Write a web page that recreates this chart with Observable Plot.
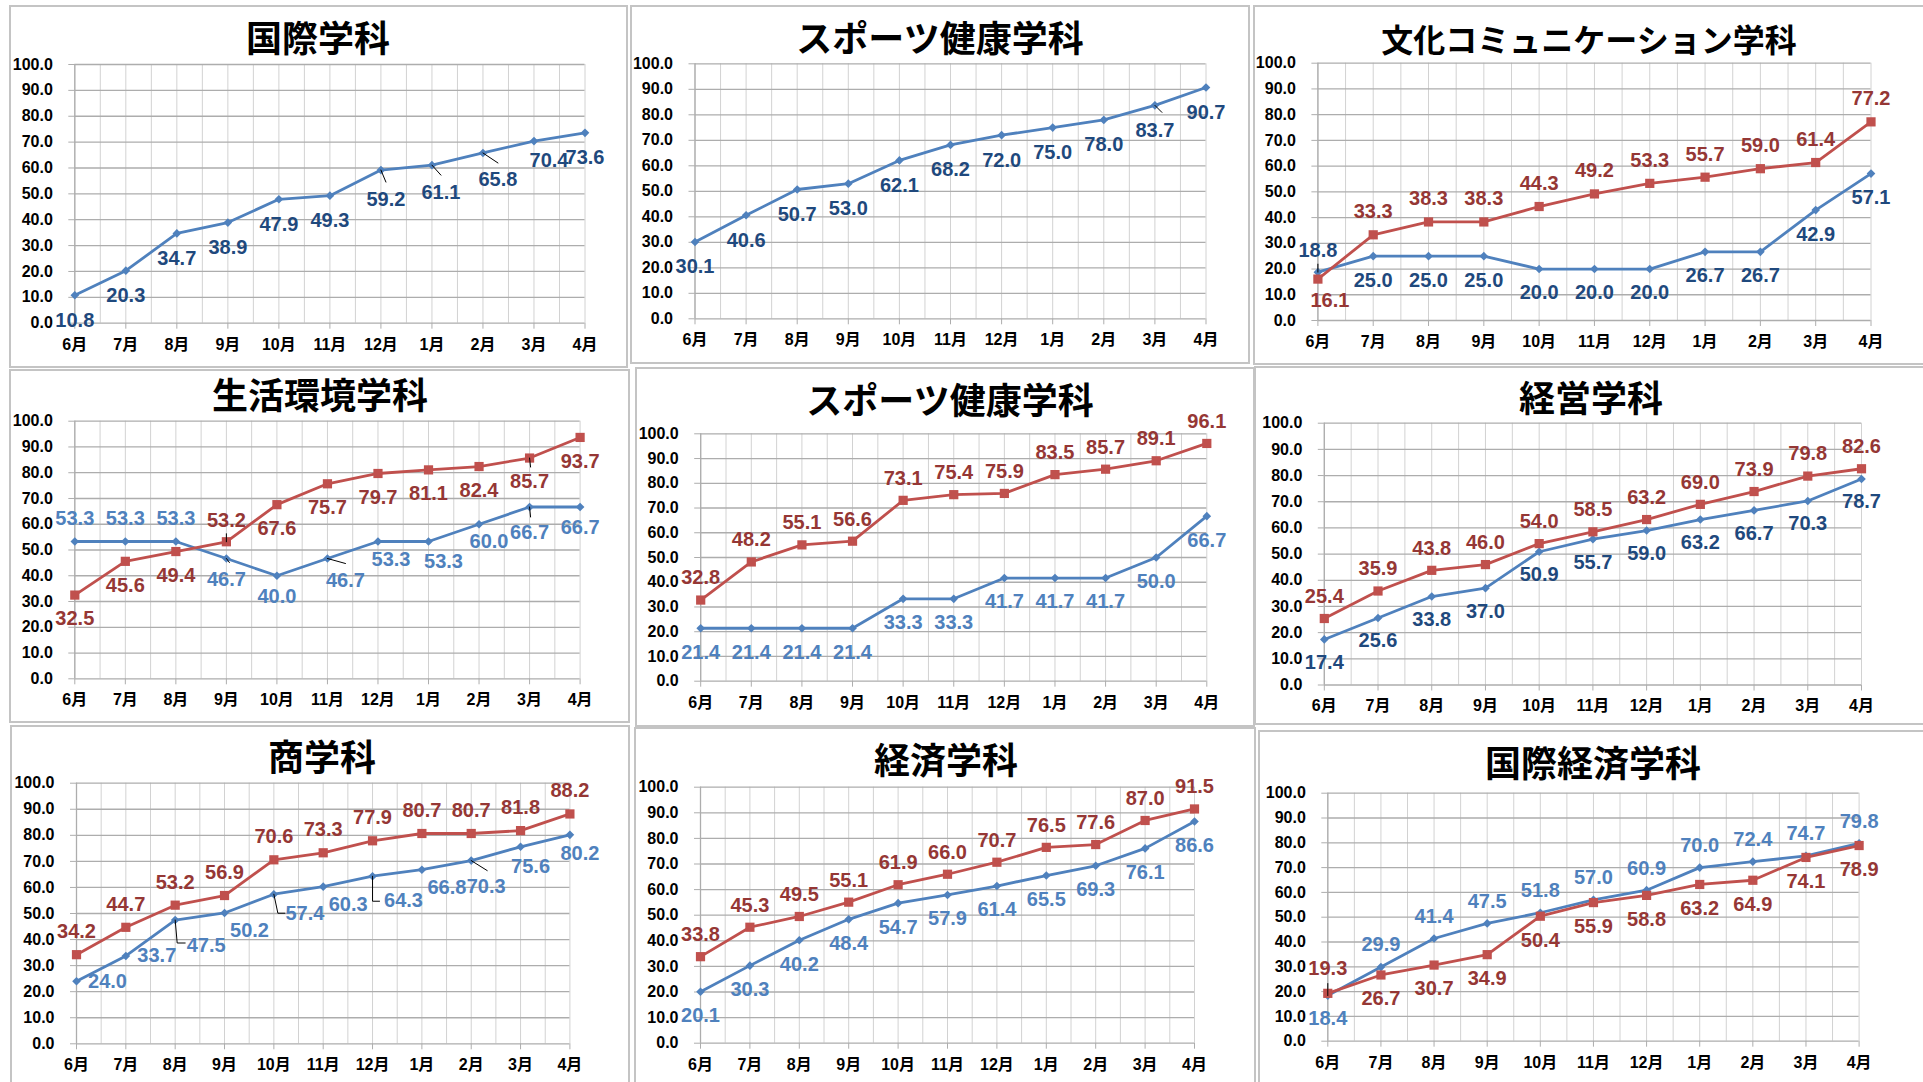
<!DOCTYPE html>
<html>
<head>
<meta charset="utf-8">
<script src="https://cdn.jsdelivr.net/npm/d3@7"></script>
<script src="https://cdn.jsdelivr.net/npm/@observablehq/plot@0.6"></script>
<style>
  html, body { margin: 0; padding: 0; background: #fff; }
  #root { position: relative; width: 1923px; height: 1082px; overflow: hidden; background: #fff; }
  .panel { position: absolute; box-sizing: border-box; border: 2px solid #C4C4C4; background: #fff; }
  .title { position: absolute; text-align: center; font-family: "Noto Sans CJK JP", sans-serif; font-weight: bold; color: #000; white-space: nowrap; }
  svg.chart { position: absolute; overflow: visible; }
</style>
</head>
<body>
<div id="root"></div>
<script>
// ---------- data ----------
const months = ["6月","7月","8月","9月","10月","11月","12月","1月","2月","3月","4月"];
const yTicks = [0, 10, 20, 30, 40, 50, 60, 70, 80, 90, 100];
const titles = ["国際学科", "スポーツ健康学科", "文化コミュニケーション学科", "生活環境学科", "スポーツ健康学科", "経営学科", "商学科", "経済学科", "国際経済学科"];

const kokusaiBlue   = [10.8, 20.3, 34.7, 38.9, 47.9, 49.3, 59.2, 61.1, 65.8, 70.4, 73.6];
const sportsBlue    = [30.1, 40.6, 50.7, 53.0, 62.1, 68.2, 72.0, 75.0, 78.0, 83.7, 90.7];
const bunkaBlue     = [18.8, 25.0, 25.0, 25.0, 20.0, 20.0, 20.0, 26.7, 26.7, 42.9, 57.1];
const bunkaRed      = [16.1, 33.3, 38.3, 38.3, 44.3, 49.2, 53.3, 55.7, 59.0, 61.4, 77.2];
const seikatsuBlue  = [53.3, 53.3, 53.3, 46.7, 40.0, 46.7, 53.3, 53.3, 60.0, 66.7, 66.7];
const seikatsuRed   = [32.5, 45.6, 49.4, 53.2, 67.6, 75.7, 79.7, 81.1, 82.4, 85.7, 93.7];
const sports2Blue   = [21.4, 21.4, 21.4, 21.4, 33.3, 33.3, 41.7, 41.7, 41.7, 50.0, 66.7];
const sports2Red    = [32.8, 48.2, 55.1, 56.6, 73.1, 75.4, 75.9, 83.5, 85.7, 89.1, 96.1];
const keieiBlue     = [17.4, 25.6, 33.8, 37.0, 50.9, 55.7, 59.0, 63.2, 66.7, 70.3, 78.7];
const keieiRed      = [25.4, 35.9, 43.8, 46.0, 54.0, 58.5, 63.2, 69.0, 73.9, 79.8, 82.6];
const shoBlue       = [24.0, 33.7, 47.5, 50.2, 57.4, 60.3, 64.3, 66.8, 70.3, 75.6, 80.2];
const shoRed        = [34.2, 44.7, 53.2, 56.9, 70.6, 73.3, 77.9, 80.7, 80.7, 81.8, 88.2];
const keizaiBlue    = [20.1, 30.3, 40.2, 48.4, 54.7, 57.9, 61.4, 65.5, 69.3, 76.1, 86.6];
const keizaiRed     = [33.8, 45.3, 49.5, 55.1, 61.9, 66.0, 70.7, 76.5, 77.6, 87.0, 91.5];
const kokukeiBlue   = [18.4, 29.9, 41.4, 47.5, 51.8, 57.0, 60.9, 70.0, 72.4, 74.7, 79.8];
const kokukeiRed    = [19.3, 26.7, 30.7, 34.9, 50.4, 55.9, 58.8, 63.2, 64.9, 74.1, 78.9];

// ---------- styles ----------
const BLUE = "#4F81BD", RED = "#C0504D";
const LBL_DARKBLUE = "#1F497D", LBL_LIGHTBLUE = "#4F81BD", LBL_RED = "#953735";
const LATIN = "'Liberation Sans', Arial, 'Noto Sans CJK JP', sans-serif";

// ---------- layout (box: l,t,r,b ; plot: x0,x1,yTop,yBottom) ----------
const layouts = [
  { title: titles[0], box: [9, 5, 628, 368], plot: [74.3, 584.5, 64, 322.7], tx: 318, ty: 38, ts: 36,
    series: [{ data: kokusaiBlue, kind: "b", lbl: LBL_DARKBLUE, dy: 25, over: {6: [5, 30], 7: [9, 27], 8: [15, 27], 9: [15, 20]} }],
    leaders: [["b", 6, [[5, 12]]], ["b", 7, [[9, 10]]], ["b", 8, [[15, 10]]]] },
  { title: titles[1], box: [630, 5, 1250, 364], plot: [694.5, 1205.5, 63.3, 318.3], tx: 940, ty: 38, ts: 36,
    series: [{ data: sportsBlue, kind: "b", lbl: LBL_DARKBLUE, dy: 25 }],
    leaders: [["b", 9, [[7, 7]]]] },
  { title: titles[2], box: [1253, 5, 1930, 365], plot: [1317.4, 1870.5, 62.7, 320], tx: 1589, ty: 40, ts: 32,
    series: [{ data: bunkaBlue, kind: "b", lbl: LBL_DARKBLUE, dy: 24, over: {0: [0, -22]} },
             { data: bunkaRed, kind: "r", lbl: LBL_RED, dy: -23, over: {0: [12, 22]} }],
    leaders: [["b", 0, [[0, -8]]]] },
  { title: titles[3], box: [9, 369, 630, 723], plot: [74.3, 579.6, 420.7, 678.3], tx: 320, ty: 395, ts: 36,
    series: [{ data: seikatsuBlue, kind: "b", lbl: LBL_LIGHTBLUE, dy: 21, over: {0: [0, -23], 1: [0, -23], 2: [0, -23], 5: [18, 22], 6: [13, 18], 7: [15, 20], 8: [10, 17], 9: [0, 26]} },
             { data: seikatsuRed, kind: "r", lbl: LBL_RED, dy: 24, over: {3: [0, -21]} }],
    leaders: [["r", 3, [[0, -8]]], ["b", 3, [[3, 4]]], ["b", 5, [[18, 5]]], ["r", 9, [[1, 9]]], ["b", 9, [[1, 10]]]] },
  { title: titles[4], box: [635, 367, 1255, 727], plot: [700.2, 1206.3, 433.3, 680.7], tx: 950, ty: 400, ts: 36,
    series: [{ data: sports2Blue, kind: "b", lbl: LBL_LIGHTBLUE, dy: 24 },
             { data: sports2Red, kind: "r", lbl: LBL_RED, dy: -22 }],
    leaders: [] },
  { title: titles[5], box: [1254, 366, 1930, 725], plot: [1323.8, 1861, 422.7, 684.5], tx: 1591, ty: 398, ts: 36,
    series: [{ data: keieiBlue, kind: "b", lbl: LBL_DARKBLUE, dy: 23 },
             { data: keieiRed, kind: "r", lbl: LBL_RED, dy: -22 }],
    leaders: [] },
  { title: titles[6], box: [10, 725, 630, 1090], plot: [76, 569.4, 782.7, 1043.3], tx: 322, ty: 757, ts: 36,
    series: [{ data: shoBlue, kind: "b", lbl: LBL_LIGHTBLUE, dx: 25, dy: 18, over: {0: [31, 0], 1: [31, 0], 2: [31, 26], 4: [31, 19], 6: [31, 24], 8: [15, 26], 9: [10, 20], 10: [10, 19]} },
             { data: shoRed, kind: "r", lbl: LBL_RED, dy: -23 }],
    leaders: [["b", 2, [[2, 23], [10, 23]]], ["b", 4, [[4, 19], [11, 19]]], ["b", 6, [[0, 25], [7, 25]]], ["b", 8, [[16, 10]]]] },
  { title: titles[7], box: [634, 727, 1256, 1090], plot: [700, 1194, 786.7, 1042.7], tx: 946, ty: 760, ts: 36,
    series: [{ data: keizaiBlue, kind: "b", lbl: LBL_LIGHTBLUE, dy: 24 },
             { data: keizaiRed, kind: "r", lbl: LBL_RED, dy: -22 }],
    leaders: [] },
  { title: titles[8], box: [1258, 730, 1930, 1090], plot: [1327.3, 1858.6, 792.7, 1040.7], tx: 1593, ty: 763, ts: 36,
    series: [{ data: kokukeiBlue, kind: "b", lbl: LBL_LIGHTBLUE, dy: -22, over: {0: [0, 23]} },
             { data: kokukeiRed, kind: "r", lbl: LBL_RED, dy: 24, over: {0: [0, -25]} }],
    leaders: [["b", 0, [[0, -12]]]] }
];

const vGrid = d3.range(0, 10.001, 0.5);
const root = document.getElementById("root");

layouts.forEach(L => {
  const [bl, bt, br, bb] = L.box;
  const [px0, px1, pyT, pyB] = L.plot;
  const W = br - bl, H = bb - bt;
  const pxI = (px1 - px0) / 10, pxV = (pyB - pyT) / 100;

  const border = document.createElement("div");
  border.className = "panel";
  Object.assign(border.style, { left: bl + "px", top: bt + "px", width: W + "px", height: H + "px" });
  root.appendChild(border);

  const marks = [
    Plot.ruleX(vGrid, { stroke: "#D2D2D2", strokeWidth: 1 }),
    Plot.ruleY(yTicks, { stroke: "#ADADAD", strokeWidth: 1.3 }),
    Plot.ruleX([0], { stroke: "#ADADAD", strokeWidth: 1.3 }),
    Plot.axisY({ ticks: yTicks, tickFormat: d => d.toFixed(1), tickSize: 6, tickPadding: 16, stroke: "#ADADAD", fill: "#000",
                 fontSize: 16, fontWeight: "bold", fontFamily: LATIN, label: null }),
    Plot.axisX({ ticks: d3.range(11), tickFormat: i => months[i], tickSize: 6, tickPadding: 9, stroke: "#ADADAD", fill: "#000",
                 fontSize: 16, fontWeight: "bold", fontFamily: LATIN, label: null })
  ];

  const order = [...L.series].sort((a, b) => (a.kind === "b" ? 0 : 1) - (b.kind === "b" ? 0 : 1));
  order.forEach(s => {
    const pts = s.data.map((v, i) => ({ i, v }));
    const col = s.kind === "b" ? BLUE : RED;
    marks.push(Plot.line(pts, { x: "i", y: "v", stroke: col, strokeWidth: 2.8 }));
    marks.push(Plot.dot(pts, s.kind === "b"
      ? { x: "i", y: "v", symbol: "diamond2", r: 3.9, fill: col, stroke: "none" }
      : { x: "i", y: "v", symbol: "square", r: 5.2, fill: col, stroke: "none" }));
  });

  // leader lines
  L.leaders.forEach(([kind, i, segs]) => {
    const s = L.series.find(q => q.kind === kind);
    const v = s.data[i];
    const path = [{ x: i, y: v }].concat(segs.map(([dx, dy]) => ({ x: i + dx / pxI, y: v - dy / pxV })));
    marks.push(Plot.line(path, { x: "x", y: "y", stroke: "#000", strokeWidth: 1 }));
  });

  // data labels
  L.series.forEach(s => {
    s.data.forEach((v, i) => {
      const o = (s.over && s.over[i]) || [s.dx || 0, s.dy];
      marks.push(Plot.text([{ i, v }], {
        x: "i", y: "v", text: d => d.v.toFixed(1), dx: o[0], dy: o[1],
        fill: s.lbl, fontSize: 20, fontWeight: "bold", fontFamily: LATIN,
        textAnchor: "middle", lineAnchor: "middle"
      }));
    });
  });

  const svg = Plot.plot({
    width: W, height: H,
    marginLeft: px0 - bl, marginRight: br - px1, marginTop: pyT - bt, marginBottom: bb - pyB,
    x: { domain: [0, 10] },
    y: { domain: [0, 100] },
    style: { background: "transparent", fontFamily: LATIN, fontSize: "16px", color: "#000", overflow: "visible" },
    marks
  });
  svg.classList.add("chart");
  svg.style.left = bl + "px";
  svg.style.top = bt + "px";
  root.appendChild(svg);

  const t = document.createElement("div");
  t.className = "title";
  t.textContent = L.title;
  Object.assign(t.style, { left: (L.tx - 400) + "px", width: "800px", top: (L.ty - L.ts * 0.55) + "px",
                           fontSize: L.ts + "px", lineHeight: L.ts + "px" });
  root.appendChild(t);
});
</script>
</body>
</html>
